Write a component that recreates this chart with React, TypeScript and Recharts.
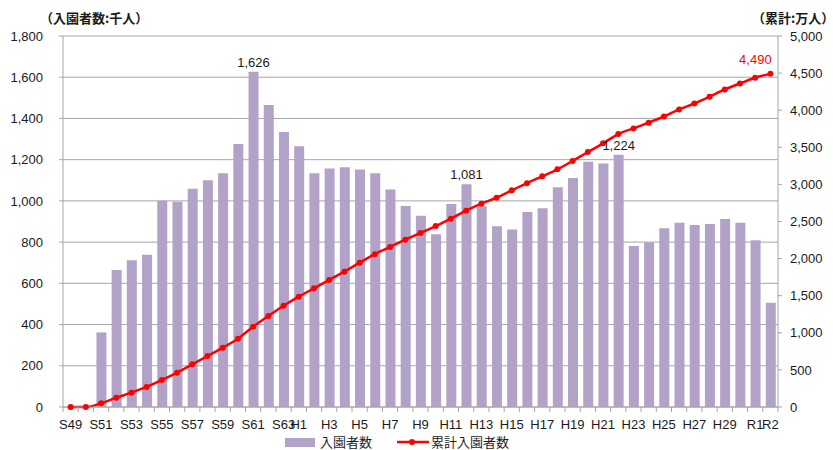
import { ComposedChart, Bar, Line, XAxis, YAxis, CartesianGrid, LabelList } from 'recharts';

// 年度（昭和49年〜令和2年）
const categories = [
  'S49', 'S50', 'S51', 'S52', 'S53', 'S54', 'S55', 'S56', 'S57', 'S58', 'S59', 'S60', 'S61', 'S62', 'S63',
  'H1', 'H2', 'H3', 'H4', 'H5', 'H6', 'H7', 'H8', 'H9', 'H10', 'H11', 'H12', 'H13', 'H14', 'H15',
  'H16', 'H17', 'H18', 'H19', 'H20', 'H21', 'H22', 'H23', 'H24', 'H25', 'H26', 'H27', 'H28', 'H29', 'H30',
  'R1', 'R2',
];

// 入園者数（千人）
const visitors = [
  0, 0, 362, 665, 712, 739, 1001, 996, 1059, 1100, 1134, 1276, 1626, 1465, 1334,
  1265, 1134, 1157, 1163, 1152, 1134, 1055, 975, 928, 838, 985, 1081, 974, 877, 861,
  946, 964, 1066, 1111, 1190, 1181, 1224, 781, 799, 867, 894, 883, 888, 912, 894,
  809, 506,
];

// 累計入園者数（万人）
const cumulative = [
  0, 0, 50, 126, 193, 270, 364, 463, 575, 687, 800, 921, 1083, 1226, 1364,
  1487, 1600, 1712, 1824, 1945, 2060, 2156, 2255, 2345, 2439, 2538, 2646, 2740, 2821, 2920,
  3017, 3109, 3203, 3315, 3437, 3553, 3679, 3755, 3832, 3915, 4011, 4090, 4182, 4280, 4361,
  4438, 4490,
];

const xLabels = [
  'S49', 'S51', 'S53', 'S55', 'S57', 'S59', 'S61', 'S63',
  'H1', 'H3', 'H5', 'H7', 'H9', 'H11', 'H13', 'H15', 'H17', 'H19', 'H21', 'H23', 'H25', 'H27', 'H29',
  'R1', 'R2',
];
const labeledBars = ['S61', 'H12', 'H22'];
const labeledPoint = 'R2';
const leftTicks = [0, 200, 400, 600, 800, 1000, 1200, 1400, 1600, 1800];
const rightTicks = [0, 500, 1000, 1500, 2000, 2500, 3000, 3500, 4000, 4500, 5000];

const data = categories.map((name, i) => ({
  name,
  visitors: visitors[i],
  cumulative: cumulative[i],
  barTag: labeledBars.includes(name) ? visitors[i] : null,
  lineTag: name === labeledPoint ? cumulative[i] : null,
}));

const BAR = '#b3a2c7';
const RED = '#ff0000';
const GRID = '#a6a6a6';
const TEXT = '#1a1a1a';
const FONT = '"Liberation Sans", "Noto Sans CJK JP", sans-serif';
const JP = '"Noto Sans CJK JP", sans-serif';

const fmt = (v: number) => v.toLocaleString('en-US');

function XTick(props: any) {
  const { x, y, payload, index } = props;
  const half = payload?.offset || 7.6;
  const axisY = y - 13;
  const show = xLabels.includes(payload.value);
  return (
    <g>
      <line x1={x - half} x2={x - half} y1={axisY} y2={axisY + 5} stroke={GRID} />
      {index === categories.length - 1 && (
        <line x1={x + half} x2={x + half} y1={axisY} y2={axisY + 5} stroke={GRID} />
      )}
      {show && (
        <text x={x} y={y} dy="0.71em" textAnchor="middle" fill={TEXT} fontSize={13} fontFamily={FONT}>
          {payload.value}
        </text>
      )}
    </g>
  );
}

export default function App() {
  return (
    <div style={{ position: 'absolute', left: 0, top: 0, width: 833, height: 450, background: '#fff' }}>
      <ComposedChart width={833} height={450} data={data} margin={{ top: 36, right: 0, bottom: 15, left: 0 }}>
        <CartesianGrid yAxisId="left" vertical={false} stroke={GRID} />
        <XAxis
          dataKey="name"
          interval={0}
          height={28}
          tickSize={0}
          tickMargin={13}
          tick={<XTick />}
          stroke={GRID}
        />
        <YAxis
          yAxisId="left"
          domain={[0, 1800]}
          ticks={leftTicks}
          width={63}
          tickSize={4}
          tickMargin={16}
          tickFormatter={fmt}
          stroke={GRID}
          tick={{ fill: TEXT, fontSize: 13, fontFamily: FONT }}
        />
        <YAxis
          yAxisId="right"
          orientation="right"
          domain={[0, 5000]}
          ticks={rightTicks}
          width={55}
          tickSize={4}
          tickMargin={8}
          tickFormatter={fmt}
          stroke={GRID}
          tick={{ fill: TEXT, fontSize: 13, fontFamily: FONT }}
        />
        <Bar yAxisId="left" dataKey="visitors" fill={BAR} barSize={10} isAnimationActive={false}>
          <LabelList
            dataKey="barTag"
            content={(p: any) =>
              p.value != null ? (
                <text
                  x={p.x + p.width / 2}
                  y={p.y - 5}
                  textAnchor="middle"
                  fill={TEXT}
                  fontSize={13}
                  fontFamily={FONT}
                >
                  {fmt(p.value)}
                </text>
              ) : null
            }
          />
        </Bar>
        <Line
          yAxisId="right"
          type="monotone"
          dataKey="cumulative"
          stroke={RED}
          strokeWidth={2.5}
          dot={{ r: 3, fill: RED, stroke: RED, strokeWidth: 0 }}
          isAnimationActive={false}
        >
          <LabelList
            dataKey="lineTag"
            content={(p: any) =>
              p.value != null ? (
                <text x={p.x - 15} y={p.y - 10} textAnchor="middle" fill={RED} fontSize={13} fontFamily={FONT}>
                  {fmt(p.value)}
                </text>
              ) : null
            }
          />
        </Line>
      </ComposedChart>

      <div style={{ position: 'absolute', left: 40, top: 10, lineHeight: '16px', fontFamily: JP, fontWeight: 700, fontSize: 13, color: TEXT, whiteSpace: 'nowrap' }}>
        （入園者数:千人）
      </div>
      <div style={{ position: 'absolute', left: 752, top: 10, lineHeight: '16px', fontFamily: JP, fontWeight: 700, fontSize: 13, color: TEXT, whiteSpace: 'nowrap' }}>
        （累計:万人）
      </div>

      <div style={{ position: 'absolute', left: 285, top: 435, height: 14, lineHeight: '14px', display: 'flex', alignItems: 'center', fontFamily: JP, fontSize: 13, color: TEXT, whiteSpace: 'nowrap' }}>
        <span style={{ display: 'inline-block', width: 30, height: 9, background: BAR, marginRight: 5 }} />
        <span>入園者数</span>
        <svg width={34} height={10} style={{ marginLeft: 24, marginRight: 1 }}>
          <line x1={1} x2={33} y1={5} y2={5} stroke={RED} strokeWidth={2.5} />
          <circle cx={16} cy={5} r={3} fill={RED} />
        </svg>
        <span>累計入園者数</span>
      </div>
    </div>
  );
}
